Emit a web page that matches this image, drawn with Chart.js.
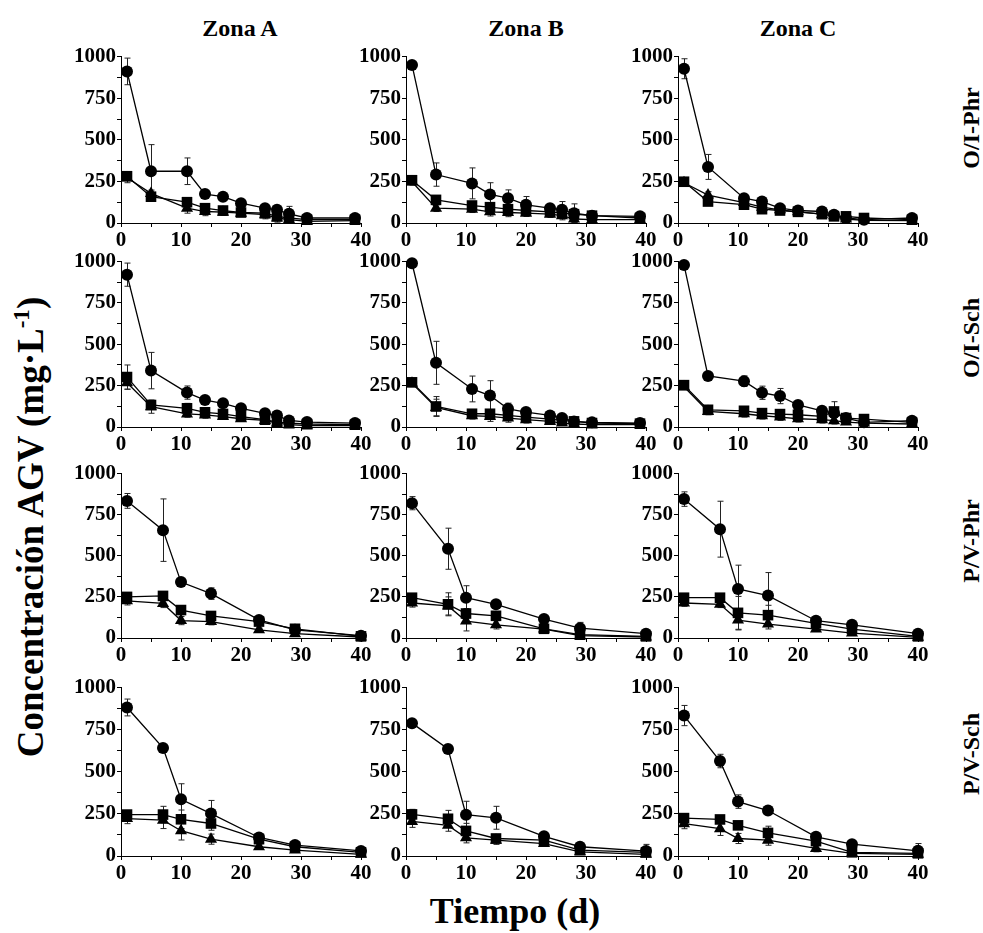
<!DOCTYPE html>
<html>
<head>
<meta charset="utf-8">
<script src="https://cdn.jsdelivr.net/npm/chart.js@4"></script>
<style>
  body { margin: 0; background: #fff; width: 983px; height: 933px; position: relative; overflow: hidden; }
  canvas { position: absolute; }
  .txt { position: absolute; font-family: "Liberation Serif", "Times New Roman", serif; font-weight: bold; color: #000; white-space: nowrap; transform: translate(-50%, -50%); }
  .rot { transform: translate(-50%, -50%) rotate(-90deg); }
</style>
</head>
<body>
<div class="txt" style="left:240px; top:28px; font-size:24px;">Zona A</div>
<div class="txt" style="left:526px; top:28px; font-size:24px;">Zona B</div>
<div class="txt" style="left:798px; top:28px; font-size:24px;">Zona C</div>
<div class="txt rot" style="left:971px; top:128px; font-size:24px;">O/I-Phr</div>
<div class="txt rot" style="left:971px; top:338px; font-size:24px;">O/I-Sch</div>
<div class="txt rot" style="left:971px; top:541px; font-size:24px;">P/V-Phr</div>
<div class="txt rot" style="left:971px; top:754px; font-size:24px;">P/V-Sch</div>
<div class="txt rot" style="left:30px; top:527px; font-size:37px;">Concentración AGV (mg·L<sup style="font-size:23px">-1</sup>)</div>
<div class="txt" style="left:515px; top:911px; font-size:36px;">Tiempo (d)</div>
<script>
// tiempos de muestreo (d)
const diasOI = [1, 5, 11, 14, 17, 20, 24, 26, 28, 31, 39];
const diasPV = [1, 7, 10, 15, 23, 29, 40];

// O/I-Phr
const oiPhrA_circ = [911, 311, 311, 174, 158, 119, 89, 79, 55, 30, 30];
const oiPhrA_circErr = [80, 160, 80, 15, 10, 15, 10, 15, 45, 10, 10];
const oiPhrA_cuad = [281, 158, 125, 89, 75, 63, 59, 40, 30, 20, 20];
const oiPhrA_cuadErr = [20, 15, 20, 15, 15, 10, 10, 10, 10, 5, 5];
const oiPhrA_tri = [272, 178, 89, 69, 65, 59, 50, 30, 20, 10, 14];
const oiPhrA_triErr = [30, 20, 30, 25, 20, 15, 25, 25, 15, 5, 5];

const oiPhrB_circ = [950, 291, 238, 172, 149, 109, 89, 79, 59, 44, 40];
const oiPhrB_circErr = [10, 70, 93, 70, 50, 50, 15, 50, 56, 10, 10];
const oiPhrB_cuad = [257, 139, 105, 95, 83, 75, 67, 59, 53, 44, 30];
const oiPhrB_cuadErr = [15, 10, 10, 10, 10, 10, 10, 10, 10, 5, 5];
const oiPhrB_tri = [248, 89, 83, 67, 63, 59, 53, 44, 24, 20, 20];
const oiPhrB_triErr = [20, 20, 20, 25, 25, 20, 20, 25, 20, 5, 5];

const oiPhrC_circ = [927, 337, 149, 129, 89, 75, 69, 50, 30, 20, 30];
const oiPhrC_circErr = [60, 75, 20, 15, 10, 10, 10, 10, 10, 5, 5];
const oiPhrC_cuad = [248, 129, 110, 83, 75, 67, 53, 40, 40, 30, 20];
const oiPhrC_cuadErr = [15, 10, 15, 10, 10, 10, 10, 10, 5, 5, 5];
const oiPhrC_tri = [242, 168, 123, 95, 79, 67, 53, 44, 24, 16, 14];
const oiPhrC_triErr = [20, 20, 40, 25, 25, 20, 25, 20, 10, 5, 5];

// O/I-Sch
const oiSchA_circ = [921, 341, 208, 163, 143, 113, 83, 69, 40, 30, 24];
const oiSchA_circErr = [70, 110, 40, 10, 10, 10, 10, 10, 10, 5, 5];
const oiSchA_cuad = [302, 133, 113, 89, 79, 63, 44, 30, 24, 18, 14];
const oiSchA_cuadErr = [73, 20, 30, 10, 10, 10, 10, 10, 5, 5, 5];
const oiSchA_tri = [268, 123, 79, 73, 63, 50, 40, 24, 14, 8, 8];
const oiSchA_triErr = [40, 40, 20, 20, 15, 15, 15, 15, 10, 5, 5];

const oiSchB_circ = [990, 388, 230, 190, 110, 90, 70, 54, 34, 28, 24];
const oiSchB_circErr = [5, 130, 78, 90, 34, 15, 10, 10, 10, 5, 5];
const oiSchB_cuad = [270, 124, 80, 80, 70, 60, 48, 40, 34, 24, 20];
const oiSchB_cuadErr = [15, 60, 10, 10, 10, 10, 10, 10, 10, 5, 5];
const oiSchB_tri = [264, 118, 68, 64, 54, 44, 34, 24, 18, 14, 14];
const oiSchB_triErr = [20, 50, 20, 30, 25, 20, 15, 15, 10, 5, 5];

const oiSchC_circ = [980, 309, 277, 207, 187, 133, 98, 84, 54, 28, 38];
const oiSchC_circErr = [5, 10, 32, 40, 46, 10, 10, 10, 10, 5, 5];
const oiSchC_cuad = [253, 104, 98, 84, 78, 74, 64, 94, 54, 48, 28];
const oiSchC_cuadErr = [15, 10, 10, 10, 10, 10, 10, 59, 10, 5, 5];
const oiSchC_tri = [243, 94, 80, 68, 60, 50, 44, 38, 30, 24, 18];
const oiSchC_triErr = [15, 20, 20, 20, 20, 20, 20, 20, 10, 5, 5];

// P/V-Phr
const pvPhrA_circ = [834, 656, 340, 270, 110, 50, 14];
const pvPhrA_circErr = [45, 190, 15, 35, 15, 10, 5];
const pvPhrA_cuad = [250, 256, 170, 134, 100, 56, 10];
const pvPhrA_cuadErr = [15, 15, 10, 10, 10, 10, 5];
const pvPhrA_tri = [226, 210, 106, 100, 50, 26, 6];
const pvPhrA_triErr = [25, 25, 25, 20, 10, 10, 5];

const pvPhrB_circ = [820, 543, 245, 205, 115, 60, 26];
const pvPhrB_circErr = [40, 125, 73, 10, 10, 35, 10];
const pvPhrB_cuad = [245, 205, 149, 135, 56, 20, 10];
const pvPhrB_cuadErr = [15, 70, 30, 10, 10, 5, 5];
const pvPhrB_tri = [213, 195, 103, 80, 54, 14, 6];
const pvPhrB_triErr = [25, 55, 60, 25, 10, 5, 5];

const pvPhrC_circ = [845, 662, 298, 258, 105, 80, 26];
const pvPhrC_circErr = [44, 170, 145, 140, 10, 10, 20];
const pvPhrC_cuad = [245, 245, 153, 139, 89, 54, 10];
const pvPhrC_cuadErr = [15, 15, 100, 60, 10, 10, 5];
const pvPhrC_tri = [213, 205, 109, 85, 54, 30, 4];
const pvPhrC_triErr = [20, 20, 60, 30, 10, 10, 5];

// P/V-Sch
const pvSchA_circ = [882, 642, 337, 252, 110, 65, 30];
const pvSchA_circErr = [50, 10, 92, 78, 15, 10, 10];
const pvSchA_cuad = [246, 246, 218, 193, 100, 55, 22];
const pvSchA_cuadErr = [20, 49, 55, 40, 10, 10, 10];
const pvSchA_tri = [222, 213, 150, 100, 55, 35, 10];
const pvSchA_triErr = [30, 50, 55, 30, 15, 10, 5];

const pvSchB_circ = [789, 636, 245, 227, 117, 55, 29];
const pvSchB_circErr = [10, 10, 80, 68, 15, 10, 40];
const pvSchB_cuad = [247, 221, 149, 104, 94, 35, 22];
const pvSchB_cuadErr = [30, 50, 45, 20, 10, 10, 10];
const pvSchB_tri = [205, 182, 108, 94, 74, 25, 10];
const pvSchB_triErr = [35, 35, 30, 25, 15, 10, 5];

const pvSchC_circ = [834, 564, 323, 270, 114, 70, 31];
const pvSchC_circErr = [60, 40, 40, 10, 10, 10, 43];
const pvSchC_cuad = [225, 217, 182, 137, 88, 22, 16];
const pvSchC_cuadErr = [15, 15, 15, 40, 10, 5, 5];
const pvSchC_tri = [192, 162, 104, 94, 45, 16, 10];
const pvSchC_triErr = [30, 40, 30, 30, 20, 5, 5];

const fuente = { family: 'Liberation Serif', size: 21, weight: 'bold' };
const EJE_Y = 50, EJE_X = 32, PAD_TOP = 12, PAD_RIGHT = 14, ANCHO = 240;

// barras de error verticales con topes
const barrasError = {
  id: 'barrasError',
  beforeDatasetsDraw(chart) {
    const { ctx, scales: { x, y } } = chart;
    ctx.save();
    ctx.strokeStyle = '#222';
    ctx.lineWidth = 1;
    chart.data.datasets.forEach(ds => {
      ds.data.forEach((p, i) => {
        const e = ds.errores[i];
        if (!e) return;
        const px = Math.round(x.getPixelForValue(p.x)) + 0.5;
        const yTop = y.getPixelForValue(p.y + e);
        const yBot = y.getPixelForValue(Math.max(p.y - e, 0));
        ctx.beginPath();
        ctx.moveTo(px, yTop); ctx.lineTo(px, yBot);
        ctx.moveTo(px - 3, yTop); ctx.lineTo(px + 3, yTop);
        ctx.moveTo(px - 3, yBot); ctx.lineTo(px + 3, yBot);
        ctx.stroke();
      });
    });
    ctx.restore();
  }
};

function serie(dias, vals, errs, estilo, radio) {
  return {
    data: dias.map((d, i) => ({ x: d, y: vals[i] })),
    errores: errs,
    borderColor: '#000',
    borderWidth: 1.3,
    pointStyle: estilo,
    pointRadius: radio,
    pointBackgroundColor: '#000',
    pointBorderColor: '#000',
    pointBorderWidth: 0,
    clip: false
  };
}

function panel(left, top, alto, dias, circ, circErr, cuad, cuadErr, tri, triErr) {
  const cv = document.createElement('canvas');
  const w = EJE_Y + ANCHO + PAD_RIGHT;
  const h = PAD_TOP + alto + EJE_X;
  cv.width = w; cv.height = h;
  cv.style.left = (left - EJE_Y) + 'px';
  cv.style.top = (top - PAD_TOP) + 'px';
  document.body.appendChild(cv);

  new Chart(cv.getContext('2d'), {
    type: 'line',
    data: {
      datasets: [
        serie(dias, tri, triErr, 'triangle', 7),
        serie(dias, cuad, cuadErr, 'rect', 7.5),
        serie(dias, circ, circErr, 'circle', 6)
      ]
    },
    options: {
      responsive: false,
      animation: false,
      layout: { padding: { top: PAD_TOP, right: PAD_RIGHT, left: 0, bottom: 0 } },
      plugins: { legend: { display: false }, tooltip: { enabled: false } },
      scales: {
        x: {
          type: 'linear', min: 0, max: 40,
          afterFit: s => { s.height = EJE_X; },
          ticks: {
            stepSize: 5, autoSkip: false, maxRotation: 0, padding: 1,
            color: '#000', font: fuente,
            callback: v => (v % 10 === 0 ? v : '')
          },
          grid: { drawOnChartArea: false, tickLength: 4, color: '#000' },
          border: { color: '#000', width: 1 }
        },
        y: {
          min: 0, max: 1000,
          afterFit: s => { s.width = EJE_Y; },
          ticks: {
            stepSize: 125, autoSkip: false, padding: 1,
            color: '#000', font: fuente,
            callback: v => (v % 250 === 0 ? v : '')
          },
          grid: { drawOnChartArea: false, tickLength: 4, color: '#000' },
          border: { color: '#000', width: 1 }
        }
      }
    },
    plugins: [barrasError]
  });
}

const colX = [121, 406, 678];
const filas = [[55, 168], [260, 167], [472, 166], [686, 170]];

panel(colX[0], filas[0][0], filas[0][1], diasOI, oiPhrA_circ, oiPhrA_circErr, oiPhrA_cuad, oiPhrA_cuadErr, oiPhrA_tri, oiPhrA_triErr);
panel(colX[1], filas[0][0], filas[0][1], diasOI, oiPhrB_circ, oiPhrB_circErr, oiPhrB_cuad, oiPhrB_cuadErr, oiPhrB_tri, oiPhrB_triErr);
panel(colX[2], filas[0][0], filas[0][1], diasOI, oiPhrC_circ, oiPhrC_circErr, oiPhrC_cuad, oiPhrC_cuadErr, oiPhrC_tri, oiPhrC_triErr);

panel(colX[0], filas[1][0], filas[1][1], diasOI, oiSchA_circ, oiSchA_circErr, oiSchA_cuad, oiSchA_cuadErr, oiSchA_tri, oiSchA_triErr);
panel(colX[1], filas[1][0], filas[1][1], diasOI, oiSchB_circ, oiSchB_circErr, oiSchB_cuad, oiSchB_cuadErr, oiSchB_tri, oiSchB_triErr);
panel(colX[2], filas[1][0], filas[1][1], diasOI, oiSchC_circ, oiSchC_circErr, oiSchC_cuad, oiSchC_cuadErr, oiSchC_tri, oiSchC_triErr);

panel(colX[0], filas[2][0], filas[2][1], diasPV, pvPhrA_circ, pvPhrA_circErr, pvPhrA_cuad, pvPhrA_cuadErr, pvPhrA_tri, pvPhrA_triErr);
panel(colX[1], filas[2][0], filas[2][1], diasPV, pvPhrB_circ, pvPhrB_circErr, pvPhrB_cuad, pvPhrB_cuadErr, pvPhrB_tri, pvPhrB_triErr);
panel(colX[2], filas[2][0], filas[2][1], diasPV, pvPhrC_circ, pvPhrC_circErr, pvPhrC_cuad, pvPhrC_cuadErr, pvPhrC_tri, pvPhrC_triErr);

panel(colX[0], filas[3][0], filas[3][1], diasPV, pvSchA_circ, pvSchA_circErr, pvSchA_cuad, pvSchA_cuadErr, pvSchA_tri, pvSchA_triErr);
panel(colX[1], filas[3][0], filas[3][1], diasPV, pvSchB_circ, pvSchB_circErr, pvSchB_cuad, pvSchB_cuadErr, pvSchB_tri, pvSchB_triErr);
panel(colX[2], filas[3][0], filas[3][1], diasPV, pvSchC_circ, pvSchC_circErr, pvSchC_cuad, pvSchC_cuadErr, pvSchC_tri, pvSchC_triErr);
</script>
</body>
</html>
